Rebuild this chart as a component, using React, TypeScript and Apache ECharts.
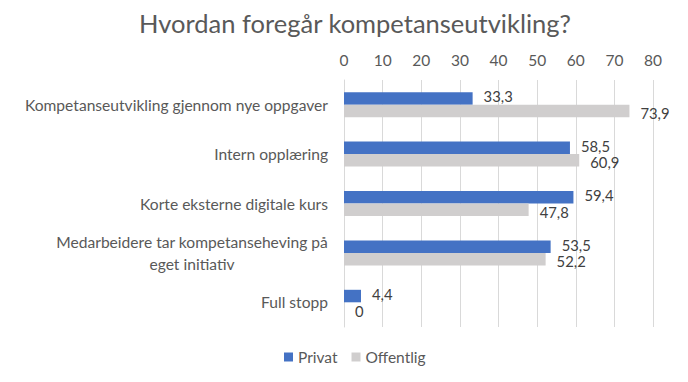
import React, { useEffect, useRef } from "react";
import * as echarts from "echarts";

const categories = [
  "Kompetanseutvikling gjennom nye oppgaver",
  "Intern opplæring",
  "Korte eksterne digitale kurs",
  "Medarbeidere tar kompetanseheving på\neget initiativ",
  "Full stopp",
];
const privat = [33.3, 58.5, 59.4, 53.5, 4.4];
const offentlig = [73.9, 60.9, 47.8, 52.2, 0];
const seriesNames = ["Privat", "Offentlig"];
const title = "Hvordan foregår kompetanseutvikling?";

const FONT = "Lato";
const CAT_SIZE = 15.6;

function measure(text: string, size: number): number {
  const c = document.createElement("canvas");
  const ctx = c.getContext("2d");
  if (!ctx) return text.length * size * 0.5;
  ctx.font = `${size}px ${FONT}`;
  return Math.ceil(ctx.measureText(text).width);
}

export default function App() {
  const ref = useRef<HTMLDivElement>(null);
  useEffect(() => {
    if (!ref.current) return;
    const chart = echarts.init(ref.current, undefined, { renderer: "svg" });
    const labelSize = 14.8;
    const fmtLabel = (v: number) => String(v).replace(".", ",");
    const mkLabel = (dy: number) => ({
      show: true,
      position: "right",
      distance: 11,
      offset: [0, dy],
      fontFamily: FONT,
      fontSize: labelSize,
      lineHeight: 12,
      color: "#404040",
      formatter: (p: any) => fmtLabel(p.value),
    });
    chart.setOption({
      animation: false,
      backgroundColor: "#ffffff",
      title: {
        text: title,
        left: 350,
        textAlign: "center",
        top: 5,
        textStyle: { fontFamily: FONT, fontSize: 25.5, fontWeight: "normal", color: "#595959" },
      },
      legend: {
        data: seriesNames,
        bottom: 12,
        left: 279,
        icon: "rect",
        itemWidth: 9,
        itemHeight: 9,
        itemGap: 14,
        textStyle: { fontFamily: FONT, fontSize: 15.5, color: "#595959" },
      },
      grid: { left: 344, right: 35, top: 80, bottom: 55 },
      xAxis: {
        type: "value",
        position: "top",
        min: 0,
        max: 80,
        interval: 10,
        axisLine: { show: false },
        axisTick: { show: false },
        axisLabel: { fontFamily: FONT, fontSize: 15.5, color: "#595959", margin: 12 },
        splitLine: { lineStyle: { color: "#D9D9D9", width: 1 } },
      },
      yAxis: {
        type: "category",
        inverse: true,
        data: categories,
        axisLine: { show: true, lineStyle: { color: "#D9D9D9" } },
        axisTick: { show: false },
        axisLabel: {
          fontFamily: FONT,
          fontSize: CAT_SIZE,
          color: "#595959",
          margin: 16,
          lineHeight: 22,
          formatter: (v: string) => {
            if (v.indexOf("\n") >= 0) {
              return v
                .split("\n")
                .map((l) => `{c|${l}}`)
                .join("\n");
            }
            return v;
          },
          rich: {
            c: {
              fontFamily: FONT,
              fontSize: CAT_SIZE,
              color: "#595959",
              lineHeight: 22,
              align: "center",
              width: measure("Medarbeidere tar kompetanseheving på", CAT_SIZE),
            },
          },
        },
      },
      series: [
        {
          name: seriesNames[0],
          type: "bar",
          data: privat,
          barWidth: 12.5,
          barGap: "0%",
          itemStyle: { color: "#4472C4" },
          label: mkLabel(-2),
        },
        {
          name: seriesNames[1],
          type: "bar",
          data: offentlig,
          barWidth: 12.5,
          barGap: "0%",
          itemStyle: { color: "#D0CECE" },
          label: mkLabel(2),
        },
      ],
    });
    return () => chart.dispose();
  }, []);
  return (
    <div
      ref={ref}
      style={{ position: "fixed", left: 0, top: 0, width: 688, height: 382 }}
    />
  );
}
